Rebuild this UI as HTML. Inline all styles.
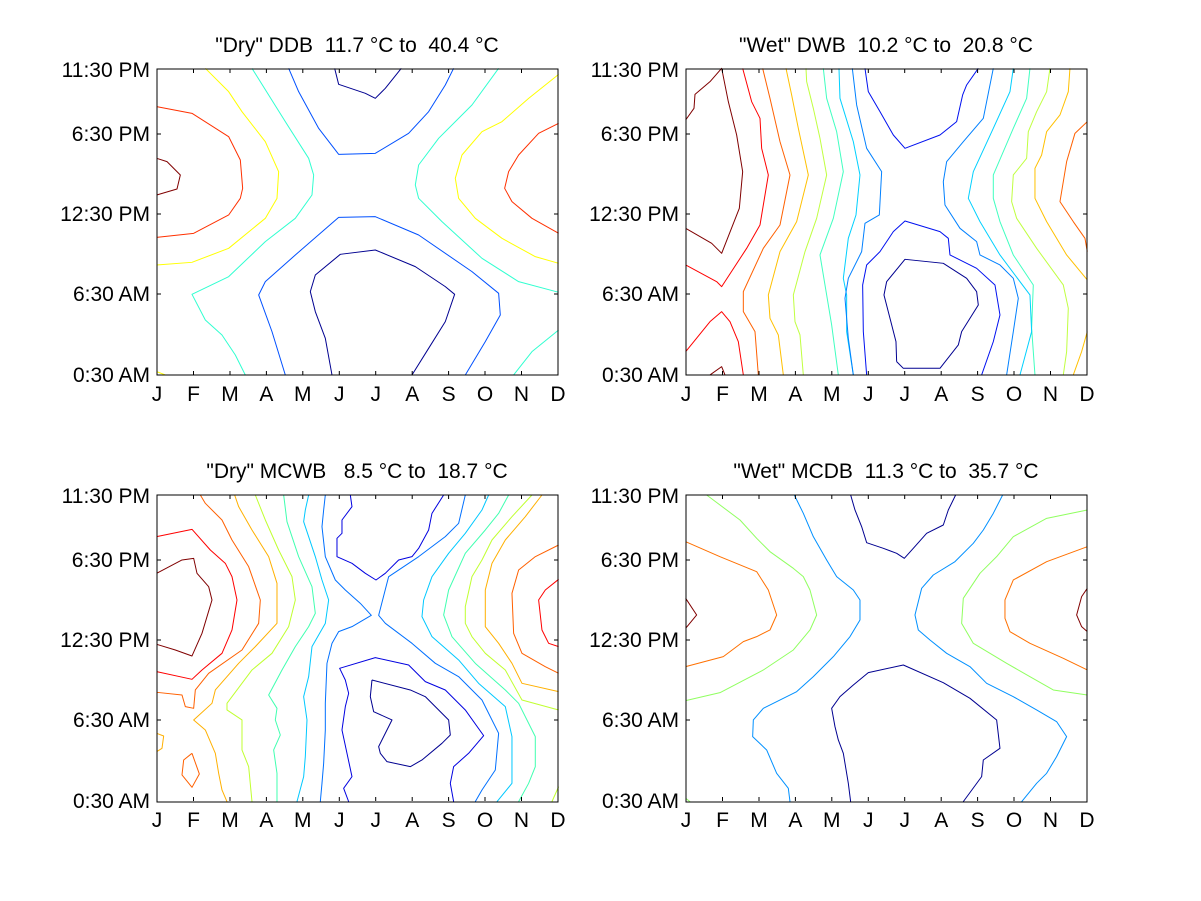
<!DOCTYPE html>
<html><head><meta charset="utf-8"><style>body{margin:0;background:#fff}svg{display:block}text{font-family:"Liberation Sans",sans-serif;font-size:21px;fill:#000;white-space:pre}</style></head><body>
<svg width="1201" height="901" viewBox="0 0 1201 901" xmlns="http://www.w3.org/2000/svg">
<rect width="1201" height="901" fill="#fff"/>
<defs>
<g id="ticks">
<path d="M193.5,0v4M230,0v4M266.4,0v4M302.8,0v4M339.3,0v4M375.7,0v4M412.2,0v4M448.6,0v4M485,0v4M521.5,0v4M193.5,306v-4M230,306v-4M266.4,306v-4M302.8,306v-4M339.3,306v-4M375.7,306v-4M412.2,306v-4M448.6,306v-4M485,306v-4M521.5,306v-4M157,225h4M157,145h4M157,65h4M558,225h-4M558,145h-4M558,65h-4" stroke="#000" fill="none"/>
</g>
</defs>
<g fill="none" stroke-width="3" stroke-linejoin="round">
<g transform="translate(152,65) scale(0.3333)">
<polyline stroke="#800000" points="14,280 45,290 85,330 75,372 14,390"/>
<polyline stroke="#ff3000" points="14,125 120,145 230,215 265,285 272,370 265,400 230,450 125,505 14,517"/>
<polyline stroke="#ffff00" points="160,10 230,80 270,140 340,230 380,320 375,400 340,460 230,550 120,592 14,600"/>
<polyline stroke="#ffff00" points="14,920 40,930"/>
<polyline stroke="#30ffd0" points="300,10 350,90 400,170 470,280 485,330 480,390 430,460 340,530 230,635 120,688 160,765 210,810 250,870 280,930"/>
<polyline stroke="#0050ff" points="410,10 440,80 500,190 560,268 670,265 770,205 830,140 880,60 905,10"/>
<polyline stroke="#000090" points="548,10 560,58 640,85 670,100 700,70 748,10"/>
<polyline stroke="#0050ff" points="400,930 360,800 320,690 340,650 430,570 560,457 670,455 800,510 960,620 1040,685 1045,750 1000,830 940,930"/>
<polyline stroke="#000090" points="540,930 520,820 490,740 475,680 490,630 565,568 670,555 790,605 880,665 908,688 880,770 830,850 780,930"/>
<polyline stroke="#30ffd0" points="1040,10 960,120 860,220 800,300 790,360 800,400 870,470 990,580 1100,650 1220,682"/>
<polyline stroke="#30ffd0" points="1085,930 1140,860 1220,795"/>
<polyline stroke="#ffff00" points="1220,28 1130,100 1050,170 990,200 930,270 910,340 920,400 970,460 1050,520 1150,575 1220,595"/>
<polyline stroke="#ff3000" points="1220,175 1160,205 1100,270 1070,320 1058,370 1080,410 1140,460 1220,505"/>
</g>
<g transform="translate(680,65) scale(0.3333)">
<polyline stroke="#800000" points="17,165 42,130 45,88 90,50 125,10 145,110 170,210 188,320 178,430 125,565 95,535 17,490"/>
<polyline stroke="#800000" points="90,930 125,905 135,930"/>
<polyline stroke="#ff0000" points="188,10 215,110 240,160 245,250 265,330 240,480 200,550 125,665 110,650 17,600"/>
<polyline stroke="#ff0000" points="17,860 90,770 125,740 150,770 175,830 190,930"/>
<polyline stroke="#ff6000" points="248,10 270,100 300,230 330,330 300,480 250,550 190,680 190,740 225,800 235,930"/>
<polyline stroke="#ff6000" points="1222,170 1185,205 1160,290 1140,410 1180,470 1215,520 1222,560"/>
<polyline stroke="#ffc000" points="318,10 335,90 355,190 385,330 350,470 300,560 265,690 270,760 295,810 310,930"/>
<polyline stroke="#ffc000" points="1170,10 1165,80 1140,150 1100,200 1085,270 1065,310 1065,400 1100,470 1160,570 1222,645"/>
<polyline stroke="#ffc000" points="1180,930 1205,860 1222,800"/>
<polyline stroke="#c0ff40" points="378,10 380,50 400,130 420,220 440,330 410,460 375,560 340,690 345,770 360,810 370,930"/>
<polyline stroke="#c0ff40" points="1110,10 1100,80 1070,140 1045,200 1040,280 1000,330 995,410 1010,460 1070,550 1150,660 1165,730 1160,860 1150,930"/>
<polyline stroke="#40ffc0" points="430,10 440,100 470,200 490,320 460,460 420,570 440,690 455,780 475,930"/>
<polyline stroke="#40ffc0" points="1050,10 1040,100 1000,190 940,330 940,400 960,470 1000,570 1060,660 1055,790 1065,930"/>
<polyline stroke="#00d0ff" points="477,10 480,100 520,230 540,330 528,450 505,520 490,640 500,690 500,800 520,930"/>
<polyline stroke="#00d0ff" points="1000,10 990,80 940,190 880,320 865,400 900,470 960,570 1050,690 1055,800 1020,930"/>
<polyline stroke="#0080ff" points="517,10 530,120 560,250 605,320 598,450 555,475 545,560 505,640 495,700 505,820 520,930"/>
<polyline stroke="#0080ff" points="940,10 910,160 850,230 800,290 790,350 795,420 840,490 890,530 900,570 960,600 1000,640 1015,700 1000,800 980,930"/>
<polyline stroke="#0010f0" points="555,10 565,80 600,140 640,210 675,250 780,210 830,170 848,90 860,60 895,10"/>
<polyline stroke="#0010f0" points="560,930 550,800 548,660 560,600 600,560 640,500 675,468 780,500 805,520 810,570 890,610 945,660 960,750 940,830 905,930"/>
<polyline stroke="#000090" points="650,890 670,910 780,910 835,840 845,800 895,720 890,680 860,640 790,595 675,583 620,650 612,690 630,760 648,830 650,890"/>
</g>
<g transform="translate(152,490) scale(0.3333)">
<polyline stroke="#800000" points="14,250 90,210 125,205 135,250 170,290 180,330 150,430 120,498 70,480 14,463"/>
<polyline stroke="#ff0000" points="14,140 120,118 175,180 220,220 240,260 255,330 240,420 210,490 150,540 120,568 14,545"/>
<polyline stroke="#ff0000" points="1220,268 1180,300 1160,330 1170,420 1190,460 1220,470"/>
<polyline stroke="#ff6000" points="145,15 160,40 210,90 240,150 290,230 325,330 320,400 270,480 170,550 130,600 125,655 100,650 90,615 14,607"/>
<polyline stroke="#ff6000" points="120,790 95,810 90,855 120,892 142,852 120,790"/>
<polyline stroke="#ff6000" points="1220,165 1150,200 1100,240 1080,310 1085,430 1110,490 1180,530 1220,550"/>
<polyline stroke="#ffb000" points="248,15 260,50 300,120 350,200 375,280 375,400 310,470 260,520 190,600 180,640 125,690 160,720 190,790 200,850 210,900 225,935"/>
<polyline stroke="#ffb000" points="14,730 35,738 30,775 14,785"/>
<polyline stroke="#ffb000" points="1170,15 1120,80 1060,150 1020,220 1000,300 1000,410 1040,460 1080,520 1110,580 1220,605"/>
<polyline stroke="#c0ff30" points="310,15 340,90 380,180 420,260 430,330 410,410 360,490 300,540 225,640 225,660 270,690 270,780 290,830 300,935"/>
<polyline stroke="#c0ff30" points="1140,15 1080,80 1020,150 990,210 960,260 940,350 940,400 960,440 1000,490 1060,540 1110,630 1220,660"/>
<polyline stroke="#c0ff30" points="1200,935 1220,890"/>
<polyline stroke="#40ffb0" points="395,15 405,95 440,200 480,290 490,370 470,410 430,470 390,540 350,615 375,655 370,690 385,735 365,780 375,850 375,935"/>
<polyline stroke="#40ffb0" points="1070,15 1040,70 1000,120 940,190 890,300 875,375 900,440 970,520 1060,600 1100,640 1150,740 1150,830 1130,880 1100,935"/>
<polyline stroke="#00c8ff" points="470,15 460,60 455,95 490,200 510,270 530,330 520,400 480,470 470,560 455,620 465,690 460,800 455,860 435,935"/>
<polyline stroke="#00c8ff" points="1010,15 990,60 940,130 890,190 840,260 815,330 810,380 840,440 920,510 980,580 1060,650 1080,740 1080,880 1035,935"/>
<polyline stroke="#0070ff" points="520,15 515,60 510,110 520,200 550,270 580,300 625,340 658,376 600,410 560,425 540,460 525,520 520,640 520,720 515,820 510,880 505,935"/>
<polyline stroke="#0070ff" points="940,15 920,100 880,140 800,200 710,260 680,376 700,400 740,430 780,460 850,520 920,560 990,630 1040,730 1030,840 990,900 970,935"/>
<polyline stroke="#0000e0" points="595,15 600,50 570,90 570,130 555,145 555,200 600,220 640,250 672,270 700,250 740,210 780,200 800,175 830,120 840,70 875,15"/>
<polyline stroke="#0000e0" points="590,935 575,895 600,860 585,790 570,720 580,650 590,610 580,570 563,535 670,503 770,525 820,575 880,600 940,660 995,737 950,790 905,830 895,880 905,935"/>
<polyline stroke="#000090" points="660,570 775,600 820,620 890,690 895,735 870,760 810,810 775,830 705,815 685,790 680,770 720,690 665,665 655,620 660,570"/>
</g>
<g transform="translate(680,490) scale(0.3333)">
<polyline stroke="#800000" points="17,325 50,375 17,415"/>
<polyline stroke="#800000" points="1222,295 1205,320 1190,375 1205,410 1222,425"/>
<polyline stroke="#ff7000" points="17,155 120,200 230,245 265,300 290,375 270,420 230,440 190,455 130,500 17,530"/>
<polyline stroke="#ff7000" points="1222,170 1100,215 1000,270 975,330 975,385 990,425 1050,460 1150,505 1222,540"/>
<polyline stroke="#90ff60" points="80,15 100,30 180,90 230,145 270,185 340,235 370,260 390,300 410,375 390,420 340,480 250,540 120,608 17,632"/>
<polyline stroke="#90ff60" points="17,925 30,935"/>
<polyline stroke="#90ff60" points="1222,60 1100,85 1000,140 950,200 900,250 850,325 845,400 880,460 980,520 1050,560 1120,600 1222,615"/>
<polyline stroke="#0090ff" points="343,15 370,70 400,140 440,210 470,260 520,300 540,330 540,390 510,440 460,500 400,560 350,605 250,655 220,690 218,740 260,780 290,850 325,895 330,935"/>
<polyline stroke="#0090ff" points="968,15 940,70 910,120 880,160 825,215 760,255 725,295 705,375 715,420 750,450 800,490 870,530 920,580 1000,620 1070,660 1130,695 1160,740 1130,800 1100,850 1070,880 1025,935"/>
<polyline stroke="#000090" points="512,15 525,60 545,110 560,158 610,175 650,190 673,205 700,175 740,130 790,105 805,60 827,15"/>
<polyline stroke="#000090" points="512,935 505,880 495,820 490,790 475,750 465,710 455,655 480,620 520,585 565,548 670,525 790,578 870,625 950,690 960,775 910,810 905,860 850,935"/>
</g>
</g>
<g fill="none" stroke="#000">
<rect x="157" y="69" width="401" height="306"/>
<rect x="686" y="69" width="401" height="306"/>
<rect x="157" y="495" width="401" height="307"/>
<rect x="686" y="495" width="401" height="307"/>
</g>
<use href="#ticks" transform="translate(0,69)"/>
<use href="#ticks" transform="translate(529,69)"/>
<use href="#ticks" transform="translate(0,495)"/>
<use href="#ticks" transform="translate(529,495)"/>
<g text-anchor="middle">
<text x="357" y="52" xml:space="preserve">"Dry" DDB  11.7 °C to  40.4 °C</text>
<text x="886" y="52" xml:space="preserve">"Wet" DWB  10.2 °C to  20.8 °C</text>
<text x="357" y="478" xml:space="preserve">"Dry" MCWB   8.5 °C to  18.7 °C</text>
<text x="886" y="478" xml:space="preserve">"Wet" MCDB  11.3 °C to  35.7 °C</text>
</g>
<g text-anchor="end">
<text x="150" y="77">11:30 PM</text><text x="150" y="141">6:30 PM</text><text x="150" y="221">12:30 PM</text><text x="150" y="301">6:30 AM</text><text x="150" y="382">0:30 AM</text>
<text x="679" y="77">11:30 PM</text><text x="679" y="141">6:30 PM</text><text x="679" y="221">12:30 PM</text><text x="679" y="301">6:30 AM</text><text x="679" y="382">0:30 AM</text>
<text x="150" y="503">11:30 PM</text><text x="150" y="567">6:30 PM</text><text x="150" y="647">12:30 PM</text><text x="150" y="727">6:30 AM</text><text x="150" y="808">0:30 AM</text>
<text x="679" y="503">11:30 PM</text><text x="679" y="567">6:30 PM</text><text x="679" y="647">12:30 PM</text><text x="679" y="727">6:30 AM</text><text x="679" y="808">0:30 AM</text>
</g>
<g text-anchor="middle">
<g transform="translate(0,401)"><text x="157">J</text><text x="193.5">F</text><text x="230">M</text><text x="266.4">A</text><text x="302.8">M</text><text x="339.3">J</text><text x="375.7">J</text><text x="412.2">A</text><text x="448.6">S</text><text x="485">O</text><text x="521.5">N</text><text x="558">D</text></g>
<g transform="translate(529,401)"><text x="157">J</text><text x="193.5">F</text><text x="230">M</text><text x="266.4">A</text><text x="302.8">M</text><text x="339.3">J</text><text x="375.7">J</text><text x="412.2">A</text><text x="448.6">S</text><text x="485">O</text><text x="521.5">N</text><text x="558">D</text></g>
<g transform="translate(0,827)"><text x="157">J</text><text x="193.5">F</text><text x="230">M</text><text x="266.4">A</text><text x="302.8">M</text><text x="339.3">J</text><text x="375.7">J</text><text x="412.2">A</text><text x="448.6">S</text><text x="485">O</text><text x="521.5">N</text><text x="558">D</text></g>
<g transform="translate(529,827)"><text x="157">J</text><text x="193.5">F</text><text x="230">M</text><text x="266.4">A</text><text x="302.8">M</text><text x="339.3">J</text><text x="375.7">J</text><text x="412.2">A</text><text x="448.6">S</text><text x="485">O</text><text x="521.5">N</text><text x="558">D</text></g>
</g>
</svg>
</body></html>
